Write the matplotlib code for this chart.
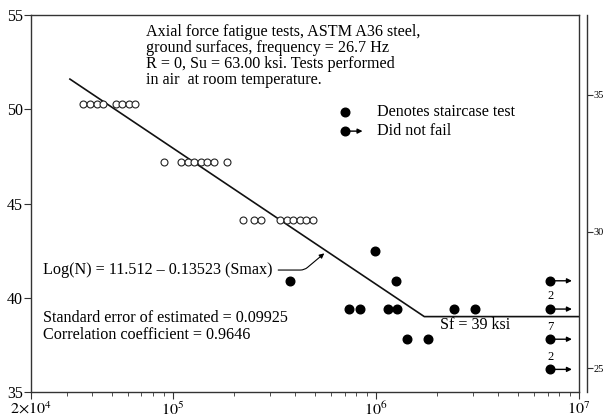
import matplotlib
matplotlib.use('Agg')
import matplotlib.pyplot as plt
from matplotlib.ticker import FixedLocator, NullFormatter

# S-N data, A36 steel axial fatigue (stress in ksi, N in cycles)
open_N = [36100, 39000, 42300, 45300, 52500, 56200, 60800, 65000,
          90400, 109700, 118000, 127000, 136800, 147200, 158500, 184800,
          221500, 251000, 271800, 337000, 362800, 390600, 420400, 452500, 489700]
open_S = [50.3] * 8 + [47.2] * 8 + [44.1] * 9

stair_N = [377600, 737000, 835000, 990000, 1143000, 1256000, 1266000,
           1428000, 1800000, 2434000, 3077000]
stair_S = [40.9, 39.4, 39.4, 42.5, 39.4, 40.9, 39.4, 37.8, 37.8, 39.4, 39.4]

runout_N = [7.21e6, 7.21e6, 7.21e6, 7.21e6]
runout_S = [40.9, 39.4, 37.8, 36.2]
runout_count = ['', '2', '7', '2']

fit_N = [3.11e4, 1.73e6, 1e7]
fit_S = [51.6, 39.0, 39.0]

KSI_TO_MPA = 6.895
mpa_ticks = [250, 300, 350]
mpa_labels = ['25', '30', '35']

plt.rcParams['font.family'] = ['Liberation Serif', 'DejaVu Serif']
plt.rcParams['mathtext.fontset'] = 'stix'
plt.rcParams['font.size'] = 11.6
plt.rcParams['axes.linewidth'] = 1.0

fig = plt.figure(figsize=(6.03, 4.18), dpi=100)
ax = fig.add_axes([0.0514, 0.0622, 0.9088, 0.9019])
edge = '#333333'

ax.plot(fit_N, fit_S, color='#111111', lw=1.2, zorder=2)
ax.plot(open_N, open_S, 'o', ms=5.0, mfc='white', mec='#222222', mew=0.8, zorder=3)
ax.plot(stair_N, stair_S, 'o', ms=6.2, color='black', zorder=3)
ax.plot(runout_N, runout_S, 'o', ms=6.2, color='black', zorder=3)
for n, s, c in zip(runout_N, runout_S, runout_count):
    ax.annotate('', xy=(n * 1.28, s), xytext=(n, s),
                arrowprops=dict(arrowstyle='-|>', color='black', lw=1.0,
                                mutation_scale=7, shrinkA=0, shrinkB=0))
    if c:
        ax.text(n, s + 0.35, c, ha='center', va='bottom', fontsize=9)

ax.set_xscale('log')
ax.set_xlim(2e4, 1e7)
ax.set_ylim(35, 55)
ax.xaxis.set_major_locator(FixedLocator([2e4, 1e5, 1e6, 1e7]))
ax.set_xticklabels([r'$2{\times}10^4$', r'$10^5$', r'$10^6$', r'$10^7$'])
ax.xaxis.set_minor_formatter(NullFormatter())
ax.set_yticks([35, 40, 45, 50, 55])
ax.tick_params(axis='both', which='major', length=5, color=edge, pad=1,
               labelsize=11.5)
ax.tick_params(axis='x', which='major', pad=2)
ax.tick_params(axis='x', which='minor', length=3, color=edge)
for sp in ax.spines.values():
    sp.set_color(edge)

# secondary MPa scale (labels clipped at the edge in the source)
ax2 = ax.twinx()
ax2.set_ylim(35 * KSI_TO_MPA, 55 * KSI_TO_MPA)
ax2.spines['right'].set_position(('outward', 6))
ax2.spines['right'].set_color(edge)
for k in ['left', 'top', 'bottom']:
    ax2.spines[k].set_visible(False)
ax2.set_yticks(mpa_ticks)
ax2.set_yticklabels(mpa_labels)
ax2.tick_params(axis='y', length=4, color=edge, pad=0.5, labelsize=7.5)

ax.text(0.21, 0.975,
        'Axial force fatigue tests, ASTM A36 steel,\n'
        'ground surfaces, frequency = 26.7 Hz\n'
        'R = 0, Su = 63.00 ksi. Tests performed\n'
        'in air  at room temperature.',
        transform=ax.transAxes, ha='left', va='top', linespacing=1.0)

# legend
ax.plot([0.573], [0.743], 'o', ms=6.2, color='black', transform=ax.transAxes)
ax.plot([0.573], [0.692], 'o', ms=6.2, color='black', transform=ax.transAxes)
ax.annotate('', xy=(0.605, 0.692), xytext=(0.573, 0.692),
            xycoords='axes fraction', textcoords='axes fraction',
            arrowprops=dict(arrowstyle='-|>', color='black', lw=1.0,
                            mutation_scale=7, shrinkA=0, shrinkB=0))
ax.text(0.631, 0.743, 'Denotes staircase test', transform=ax.transAxes,
        ha='left', va='center')
ax.text(0.631, 0.692, 'Did not fail', transform=ax.transAxes,
        ha='left', va='center')

ax.text(22900, 41.47, 'Log(N) = 11.512 \u2013 0.13523 (Smax)', ha='left', va='center')
ax.annotate('', xy=(5.7e5, 42.45), xytext=(3.3e5, 41.47),
            arrowprops=dict(arrowstyle='-|>', color='black', lw=0.8,
                            mutation_scale=7, shrinkA=0, shrinkB=2,
                            connectionstyle='angle,angleA=0,angleB=40,rad=4'))
ax.text(22900, 38.93, 'Standard error of estimated = 0.09925', ha='left', va='center')
ax.text(22900, 38.02, 'Correlation coefficient = 0.9646', ha='left', va='center')
ax.text(2.07e6, 38.55, 'Sf = 39 ksi', ha='left', va='center')

fig.savefig('out.png', dpi=100)
